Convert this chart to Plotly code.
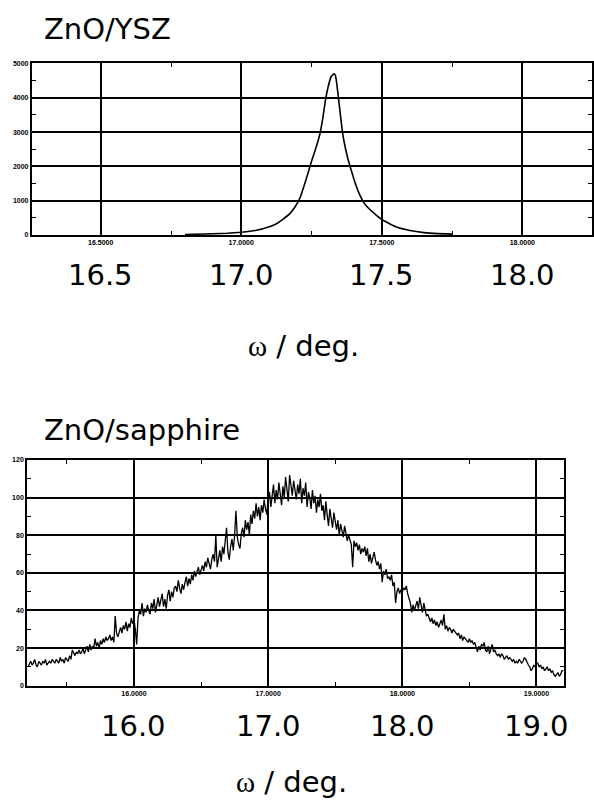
import plotly.graph_objects as go

# ---------------- data ----------------
# ZnO/YSZ rocking curve (omega in deg, intensity in counts)
ysz_omega = [16.80, 16.90, 16.95, 17.00, 17.05, 17.10, 17.13, 17.15, 17.17, 17.19,
             17.21, 17.23, 17.25, 17.27, 17.28, 17.29, 17.30, 17.31, 17.32, 17.33,
             17.335, 17.34, 17.35, 17.36, 17.37, 17.38, 17.40, 17.42, 17.44, 17.47,
             17.50, 17.55, 17.60, 17.65, 17.70, 17.75]
ysz_counts = [15, 35, 50, 80, 130, 240, 350, 470, 600, 800,
              1100, 1600, 2150, 2650, 2950, 3400, 3950, 4350, 4620, 4700,
              4650, 4400, 3700, 3000, 2550, 2200, 1650, 1200, 900, 650,
              450, 240, 130, 70, 40, 25]

# ZnO/sapphire rocking curve: scan start / step and counts
sapphire_start = 15.21
sapphire_step = 0.01
sapphire_counts = [
    10, 12, 13, 11, 12, 14, 11, 10, 13, 12,
    11, 13, 12, 14, 11, 12, 13, 12, 14, 13,
    12, 14, 13, 12, 15, 13, 14, 12, 15, 14,
    13, 16, 14, 19, 17, 16, 18, 17, 19, 17,
    18, 20, 17, 19, 21, 18, 22, 19, 21, 20,
    25, 21, 23, 20, 24, 22, 25, 23, 26, 24,
    25, 27, 24, 26, 23, 37, 28, 26, 29, 31,
    28, 32, 30, 34, 29, 33, 31, 36, 33, 35,
    30, 22, 36, 40, 38, 44, 37, 41, 39, 43,
    40, 38, 44, 41, 46, 39, 43, 47, 42, 45,
    49, 42, 46, 41, 48, 51, 45, 50, 47, 52,
    53, 50, 56, 52, 49, 54, 51, 55, 58, 53,
    57, 54, 59, 56, 61, 58, 60, 63, 59, 62,
    64, 61, 66, 63, 68, 65, 62, 67, 70, 66,
    80, 63, 69, 72, 66, 74, 70, 76, 84, 71,
    67, 74, 78, 72, 80, 93, 79, 75, 73, 81,
    84, 79, 88, 83, 87, 80, 91, 86, 93, 89,
    97, 90, 95, 88, 96, 92, 99, 94, 91, 100,
    103, 95, 101, 107, 97, 104, 99, 108, 102, 96,
    106, 100, 111, 104, 98, 112, 105, 101, 109, 103,
    99, 107, 102, 110, 97, 105, 101, 108, 95, 103,
    100, 94, 104, 97, 101, 92, 99, 95, 102, 93,
    96, 88, 98, 91, 85, 94, 89, 84, 92, 87,
    83, 88, 80, 86, 82, 79, 85, 81, 77, 80,
    78, 75, 63, 77, 74, 76, 72, 75, 70, 73,
    71, 74, 69, 73, 66, 70, 65, 68, 71, 67,
    64, 66, 62, 65, 55, 61, 59, 62, 57, 58,
    56, 59, 53, 55, 44, 50, 52, 49, 51, 50,
    52, 51, 53, 49, 47, 44, 39, 43, 40, 42,
    45, 41, 47, 43, 39, 44, 40, 37, 38, 36,
    34, 36, 33, 35, 32, 34, 31, 33, 35, 32,
    38, 30, 32, 29, 31, 30, 28, 30, 29, 28,
    27, 28, 25, 27, 24, 26, 25, 24, 23, 25,
    23, 24, 22, 23, 20, 18, 21, 19, 22, 21,
    23, 19, 18, 21, 17, 20, 22, 18, 19, 17,
    16, 17, 15, 17, 16, 14, 15, 16, 14, 15,
    14, 13, 14, 12, 13, 12, 14, 13, 12, 13,
    15, 14, 12, 11, 10, 8, 9, 11, 10, 12,
    12, 10, 11, 9, 10, 8, 9, 10, 8, 9,
    7, 8, 6, 5, 6, 7, 5, 6, 8, 8,
]
sapphire_omega = [round(sapphire_start + sapphire_step * i, 3) for i in range(len(sapphire_counts))]

# tick values / labels
ysz_xticks = [16.5, 17.0, 17.5, 18.0]
ysz_xminor = [16.75, 17.25, 17.75]
ysz_yticks = [0, 1000, 2000, 3000, 4000, 5000]
ysz_yminor = [500, 1500, 2500, 3500, 4500]
sap_xticks = [16.0, 17.0, 18.0, 19.0]
sap_xminor = [15.5, 16.5, 17.5, 18.5]
sap_yticks = [0, 20, 40, 60, 80, 100, 120]
sap_yminor = [10, 30, 50, 70, 90, 110]
titles = ["ZnO/YSZ", "ZnO/sapphire"]
axis_label = "<span style='font-family:Liberation Serif'>ω</span> / deg."

# ---------------- figure ----------------
fig = go.Figure()
fig.add_trace(go.Scatter(x=ysz_omega, y=ysz_counts, mode="lines",
                         line=dict(color="black", width=1.6, shape="spline", smoothing=0.3),
                         xaxis="x", yaxis="y", showlegend=False))
fig.add_trace(go.Scatter(x=sapphire_omega, y=sapphire_counts, mode="lines",
                         line=dict(color="black", width=1.3),
                         xaxis="x2", yaxis="y2", showlegend=False))

small_font = dict(family="Arial", size=7, color="black")


def xaxis_cfg(domain, rng, ticks, minor, anchor):
    return dict(domain=domain, range=rng, anchor=anchor,
                tickmode="array", tickvals=ticks,
                ticktext=["<b>%.4f</b>" % t for t in ticks],
                tickfont=small_font, ticks="", showgrid=True,
                gridcolor="black", gridwidth=1.5, zeroline=False,
                showline=True, linecolor="black", linewidth=2, mirror="ticks",
                minor=dict(tickmode="array", tickvals=minor, ticks="inside",
                           ticklen=4, tickcolor="black", tickwidth=1.2, showgrid=False),
                fixedrange=True)


def yaxis_cfg(domain, rng, ticks, minor, anchor):
    return dict(domain=domain, range=rng, anchor=anchor,
                tickmode="array", tickvals=ticks,
                ticktext=["<b>%d</b>" % t for t in ticks],
                tickfont=small_font, ticks="", showgrid=True,
                gridcolor="black", gridwidth=1.5, zeroline=False,
                showline=True, linecolor="black", linewidth=2, mirror="ticks",
                minor=dict(tickmode="array", tickvals=minor, ticks="inside",
                           ticklen=4, tickcolor="black", tickwidth=1.2, showgrid=False),
                fixedrange=True)


W, H = 594, 807
fig.update_layout(
    width=W, height=H,
    margin=dict(l=0, r=0, t=0, b=0),
    paper_bgcolor="white", plot_bgcolor="white",
    xaxis=xaxis_cfg([32 / W, 1.0], [16.255, 18.248], ysz_xticks, ysz_xminor, "y"),
    yaxis=yaxis_cfg([1 - 233 / H, 1 - 60 / H], [0, 5000], ysz_yticks, ysz_yminor, "x"),
    xaxis2=xaxis_cfg([27.3 / W, 566 / W], [15.204, 19.206], sap_xticks, sap_xminor, "y2"),
    yaxis2=yaxis_cfg([1 - 687.7 / H, 1 - 460 / H], [0, 120], sap_yticks, sap_yminor, "x2"),
)

big = dict(family="DejaVu Sans", size=29, color="black")
ann = []
for t in ysz_xticks:
    ann.append(dict(x=t, xref="x", y=1 - 273 / H, yref="paper", text="%.1f" % t,
                    showarrow=False, font=big, xanchor="center", yanchor="middle"))
for t in sap_xticks:
    ann.append(dict(x=t, xref="x2", y=1 - 728 / H, yref="paper", text="%.1f" % t,
                    showarrow=False, font=big, xanchor="center", yanchor="middle"))
ann.append(dict(x=305 / W, xref="paper", y=1 - 345 / H, yref="paper", text=axis_label,
                showarrow=False, font=big, xanchor="center", yanchor="middle"))
ann.append(dict(x=292 / W, xref="paper", y=1 - 785 / H, yref="paper", text=axis_label,
                showarrow=False, font=big, xanchor="center", yanchor="middle"))
ann.append(dict(x=42 / W, xref="paper", y=1 - 25 / H, yref="paper", text=titles[0],
                showarrow=False, font=big, xanchor="left", yanchor="middle"))
ann.append(dict(x=42 / W, xref="paper", y=1 - 430 / H, yref="paper", text=titles[1],
                showarrow=False, font=big, xanchor="left", yanchor="middle"))
fig.update_layout(annotations=ann)

fig.write_html("out.html")
